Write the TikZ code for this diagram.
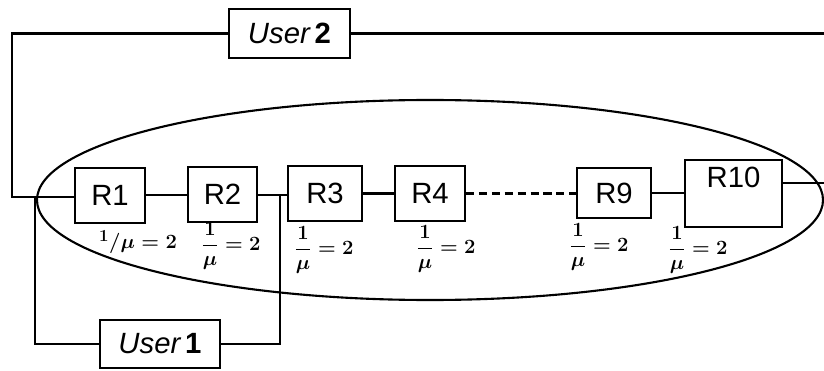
\documentclass[tikz,border=0pt]{standalone}
\usepackage{fontspec}
\setmainfont{Liberation Sans}
\begin{document}
\begin{tikzpicture}[x=0.03cm,y=-0.03cm,
  wire/.style={line width=1.8pt},
  rbox/.style={draw,line width=1.8pt,fill=white,inner sep=0pt,
    font=\fontsize{25}{30}\selectfont},
  ubox/.style={draw,line width=1.8pt,fill=white,inner sep=0pt,
    minimum height=1.45cm,font=\fontsize{25}{30}\selectfont\itshape},
  rate/.style={inner sep=0pt,font=\fontsize{19}{22}\selectfont\boldmath}]
\useasboundingbox (0,0) rectangle (824,371);

% network boundary
\draw[line width=1.8pt] (430,200) ellipse [x radius=11.79cm, y radius=3cm];

% routers
\node[rbox,minimum width=2.1cm,minimum height=1.65cm] (r1) at (110,195.5) {R1};
\node[rbox,minimum width=2.07cm,minimum height=1.65cm] (r2) at (222.5,194.5) {R2};
\node[rbox,minimum width=2.22cm,minimum height=1.65cm] (r3) at (325,193.5) {R3};
\node[rbox,minimum width=2.1cm,minimum height=1.65cm] (r4) at (430,193.5) {R4};
\node[rbox,minimum width=2.22cm,minimum height=1.5cm] (r9) at (614,193) {R9};
\node[rbox,minimum width=2.91cm,inner ysep=0pt,text height=0.84cm,text depth=1.17cm,
  anchor=base] (r10) at (733.5,188) {R10};

% users
\node[ubox,minimum width=3.63cm] (u2) at (289.5,33.5) {User\,\textbf{\textup{2}}};
\node[ubox,minimum width=3.6cm] (u1) at (160,344) {User\,\textbf{\textup{1}}};

% service rates
\node[rate] (m1) at (138,242) {${}^1/\mu=2$};
\node[rate] (m2) at (231,246) {$\displaystyle\frac{1}{\mu}=2$};
\node[rate] (m3) at (324,250) {$\displaystyle\frac{1}{\mu}=2$};
\node[rate] (m4) at (446,249) {$\displaystyle\frac{1}{\mu}=2$};
\node[rate] (m9) at (599,247) {$\displaystyle\frac{1}{\mu}=2$};
\node[rate] (m10) at (698,250) {$\displaystyle\frac{1}{\mu}=2$};

% junctions and free ends
\coordinate (jl) at (12,197);
\coordinate (ju1) at (35,197);
\coordinate (j23) at (280,195);
\coordinate (eu2) at (824,29);
\coordinate (er10) at (824,183);

% user 2 route
\draw[wire] (u2.west) -- (12,33.5) -- (jl) -- (r1.west |- jl);
\draw[wire] (u2.east) -- (eu2 |- u2.east);

% user 1 route
\draw[wire] (u1.west) -- (ju1 |- u1.west) -- (ju1);
\draw[wire] (u1.east) -- (j23 |- u1.east) -- (j23);

% chain of routers
\draw[wire] (r1.east |- j23) -- (r2.west |- j23);
\draw[wire] (r2.east |- j23) -- (j23) -- (r3.west |- j23);
\draw[wire] (r3.east) -- (r4.west);
\draw[wire,dash pattern=on 7pt off 4pt] (r4.east) -- (r9.west |- r4.east);
\draw[wire] (r9.east) -- (r10.west |- r9.east);
\draw[wire] (r10.east |- er10) -- (er10);
\end{tikzpicture}
\end{document}
